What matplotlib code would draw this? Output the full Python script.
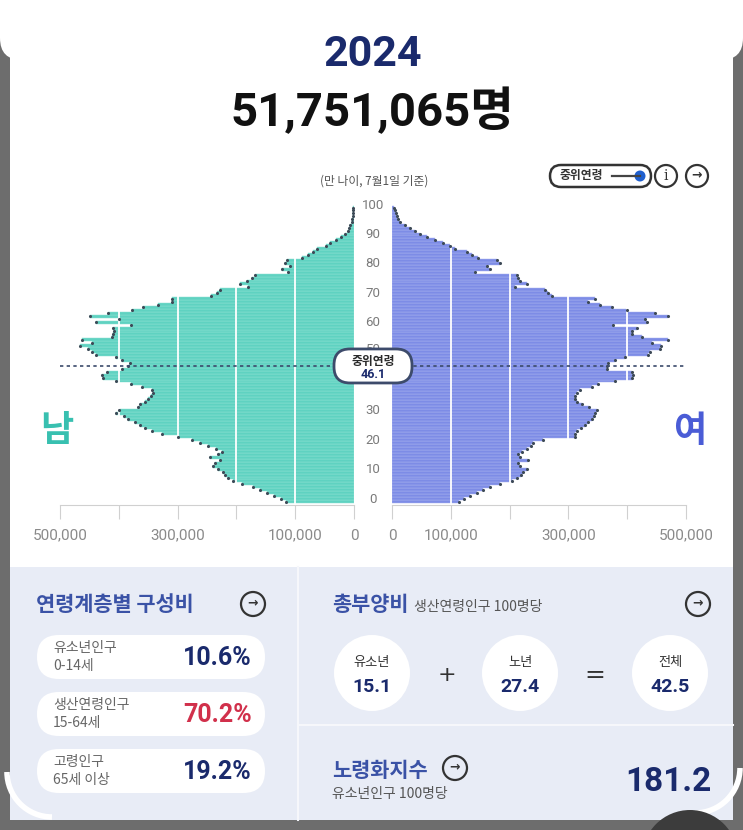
import matplotlib
matplotlib.use('Agg')
import matplotlib.pyplot as plt
from matplotlib.patches import FancyBboxPatch, Circle, Rectangle, Arc
import numpy as np

plt.rcParams['font.family'] = ['Noto Sans CJK KR', 'DejaVu Sans']
NUM_FONT = ['Roboto', 'DejaVu Sans']
HEAD_FONT = ['Roboto', 'Noto Sans CJK KR', 'DejaVu Sans']

# ---- data (population in thousands, age 0..100) ----
ages = list(range(0, 101))
male_k = [115, 125, 136, 148, 160, 172, 190, 205, 215, 220,
          222, 232, 240, 236, 228, 245, 231, 225, 235, 248,
          262, 275, 300, 327, 344, 355, 364, 372, 385, 392,
          404, 400, 367, 364, 355, 350, 345, 341, 344, 360,
          380, 404, 427, 429, 420, 395, 384, 381, 395, 404,
          438, 445, 452, 466, 446, 463, 412, 410, 408, 410,
          380, 438, 400, 449, 418, 378, 359, 333, 309, 310,
          243, 233, 228, 180, 194, 182, 174, 168, 112, 123,
          109, 117, 114, 89, 78, 70, 63, 48, 40, 30,
          22, 15, 11, 8, 6, 4, 3, 2, 1.5, 1, 1]
female_k = [114, 122, 132, 145, 155, 167, 184, 204, 213, 220,
            223, 229, 218, 215, 232, 218, 214, 221, 230, 236,
            240, 257, 311, 312, 314, 322, 328, 334, 340, 343,
            345, 348, 335, 323, 315, 311, 311, 315, 320, 340,
            350, 379, 408, 410, 408, 365, 366, 368, 379, 396,
            436, 439, 456, 457, 442, 469, 425, 408, 408, 416,
            376, 433, 430, 470, 447, 399, 374, 354, 334, 345,
            272, 266, 260, 209, 229, 218, 215, 212, 141, 167,
            161, 184, 178, 146, 136, 127, 107, 99, 87, 73,
            59, 48, 39, 31, 22, 14, 11, 8, 6, 5, 4]
age_ticks = [0, 10, 20, 30, 50, 60, 70, 80, 90, 100]   # 40 sits under the median box
value_ticks = [0, 100000, 200000, 300000, 400000, 500000]
value_labels = ['0', '100,000', '', '300,000', '', '500,000']
median_age = 46.1
year_label = '2024'
total_label = '51,751,065명'

share_names = ['유소년인구', '생산연령인구', '고령인구']
share_ranges = ['0-14세', '15-64세', '65세 이상']
share_values = ['10.6%', '70.2%', '19.2%']
dep_names = ['유소년', '노년', '전체']
dep_values = ['15.1', '27.4', '42.5']
aging_index = '181.2'

MALE_C, MALE_E = '#5fd2c1', '#8fe2d5'
FEM_C, FEM_E = '#7d8ce6', '#a9b3f0'
NAVY = '#1a2a6c'
TITLE_BLUE = '#3a52a6'

W, H = 743, 830
fig = plt.figure(figsize=(W / 100, H / 100), dpi=100)
fig.patch.set_facecolor('#6d6d6d')

bg = fig.add_axes([0, 0, 1, 1])
bg.set_xlim(0, W)
bg.set_ylim(H, 0)
bg.axis('off')

# card
bg.add_patch(FancyBboxPatch((0, -30), W, 90, boxstyle='round,pad=0,rounding_size=22',
                            fc='white', ec='none'))
bg.add_patch(Rectangle((10, 40), W - 20, 780, fc='white', ec='none'))
bg.add_patch(Rectangle((10, 567), W - 20, 253, fc='#e8ecf6', ec='none'))
bg.add_patch(Arc((52, 772), 90, 90, theta1=90, theta2=180, color='white', lw=4))
bg.add_patch(Arc((695, 768), 90, 90, theta1=0, theta2=90, color='white', lw=4))
bg.add_patch(Circle((690, 858), 48, fc='#3c3c3c', ec='none'))

# header
bg.text(373, 55, year_label, ha='center', va='center', fontsize=31, fontweight='bold',
        color=NAVY, family=HEAD_FONT)
bg.text(372, 111, total_label, ha='center', va='center', fontsize=34, fontweight='bold',
        color='#111111', family=HEAD_FONT)
bg.text(374, 181, '(만 나이, 7월1일 기준)', ha='center', va='center', fontsize=8.5, color='#555555')

# toggle + icons
bg.add_patch(FancyBboxPatch((550, 165), 101, 22, boxstyle='round,pad=0,rounding_size=11',
                            fc='white', ec='#333333', lw=1.8))
bg.text(581, 176, '중위연령', ha='center', va='center', fontsize=8.5, fontweight='bold', color='#333333')
bg.plot([612, 640], [176, 176], color='#444444', lw=1.6)
bg.add_patch(Circle((640, 176), 5.5, fc='#1f5fcf', ec='none'))


def arrow_icon(x, y, r=11):
    bg.add_patch(Circle((x, y), r, fc='none', ec='#333333', lw=1.6))
    bg.text(x, y - 1, '→', ha='center', va='center', fontsize=9, fontweight='bold',
            color='#333333', family=['DejaVu Sans'])


bg.add_patch(Circle((666, 176), 11, fc='none', ec='#333333', lw=1.6))
bg.text(666, 176, 'i', ha='center', va='center', fontsize=10, color='#333333', family=['DejaVu Serif'])
arrow_icon(697, 176)

# 남 / 여
bg.text(57, 430, '남', ha='center', va='center', fontsize=26, fontweight='bold', color='#38c0b0')
bg.text(690, 431, '여', ha='center', va='center', fontsize=26, fontweight='bold', color='#4a5cd6')

# ---- pyramid ----
Y_SPINE, Y_TOP = 505, 204.6


def pyr_axes(x0, x1):
    return fig.add_axes([x0 / W, 1 - Y_SPINE / H, (x1 - x0) / W, (Y_SPINE - Y_TOP) / H])


axm = pyr_axes(60, 354)
axf = pyr_axes(392, 686)
for ax, vals, face, edge in ((axm, male_k, MALE_C, MALE_E), (axf, female_k, FEM_C, FEM_E)):
    v = np.array(vals) * 1000
    ax.barh(ages, v, height=1.0, color=face, edgecolor=edge, linewidth=0.35, zorder=2)
    for t in value_ticks[1:-1]:
        ax.axvline(t, color='white', lw=1.3, zorder=3)
    ax.scatter(v, ages, s=5, color='#3d4a57', zorder=4, linewidths=0)
    ax.set_ylim(-1.19, 101)
    ax.set_yticks([])
    for s in ('top', 'left', 'right'):
        ax.spines[s].set_visible(False)
    ax.spines['bottom'].set_color('#d0d0d0')
    ax.set_xticks(value_ticks)
    ax.set_xticklabels(value_labels, family=NUM_FONT, fontsize=11, color='#8a8a8a')
    ax.tick_params(axis='x', length=10, color='#d0d0d0', pad=7)
    ax.patch.set_alpha(0)
axm.set_xlim(500000, 0)
axf.set_xlim(0, 500000)

# overlay
top = fig.add_axes([0, 0, 1, 1], zorder=10)
top.set_xlim(0, W)
top.set_ylim(H, 0)
top.axis('off')
top.patch.set_alpha(0)


def age_y(a):
    return 501.5 - 2.94 * a


ym = age_y(median_age)
box_top = ym - 17
clip = Rectangle((330, 150), 90, box_top - 150, transform=top.transData)
for a in age_ticks:
    yl = age_y(a) - 2.5
    hidden = yl - 6 < box_top < yl + 6
    if hidden:
        yl -= 3
    t = top.text(373, yl, str(a), ha='center', va='center', fontsize=9.5,
                 color='#7a7a7a', family=NUM_FONT)
    if hidden:
        t.set_clip_path(clip)

top.plot([60, 686], [ym, ym], ls=(0, (2, 2)), color='#3b4a6b', lw=1.2, zorder=4)
top.add_patch(FancyBboxPatch((334, box_top), 78, 34, boxstyle='round,pad=0,rounding_size=16',
                             fc='white', ec='#3d4b6b', lw=2, zorder=5))
top.text(373, ym - 4, '중위연령', ha='center', va='center', fontsize=8.5, fontweight='bold',
         color='#2a2a2a', zorder=6)
top.text(373, ym + 9, f'{median_age}', ha='center', va='center', fontsize=9, fontweight='bold',
         color=NAVY, zorder=6, family=NUM_FONT)

# ---- bottom panels ----
bg.plot([298, 298], [567, 820], color='#f6f7fb', lw=1.5)
bg.plot([298, 733], [725, 725], color='#f6f7fb', lw=1.5)

bg.text(36, 604, '연령계층별 구성비', ha='left', va='center', fontsize=15, fontweight='bold', color=TITLE_BLUE)
arrow_icon(253, 604, 12)
pill_tops = [635, 692, 749]
for i, y0 in enumerate(pill_tops):
    bg.add_patch(FancyBboxPatch((37, y0), 228, 44, boxstyle='round,pad=0,rounding_size=22',
                                fc='white', ec='none'))
    bg.text(53, y0 + 13, share_names[i], ha='left', va='center', fontsize=10, color='#666666')
    bg.text(53, y0 + 31, share_ranges[i], ha='left', va='center', fontsize=10, color='#666666')
    col = '#d1304b' if i == 1 else NAVY
    bg.text(252, y0 + 23, share_values[i], ha='right', va='center', fontsize=18, fontweight='bold',
            color=col, family=NUM_FONT)

bg.text(332, 604, '총부양비', ha='left', va='center', fontsize=15, fontweight='bold', color=TITLE_BLUE)
bg.text(414, 607, '생산연령인구 100명당', ha='left', va='center', fontsize=10, color='#555555')
arrow_icon(698, 604, 12)
for cx, name, val in zip([372, 520, 670], dep_names, dep_values):
    bg.add_patch(Circle((cx, 673), 38, fc='white', ec='none'))
    bg.text(cx, 662, name, ha='center', va='center', fontsize=9.5, color='#333333')
    bg.text(cx, 687, val, ha='center', va='center', fontsize=14, fontweight='bold', color=NAVY,
            family=NUM_FONT)
bg.text(447, 675, '+', ha='center', va='center', fontsize=16, color='#333333', family=['DejaVu Sans'])
bg.text(595, 675, '=', ha='center', va='center', fontsize=18, color='#333333', family=['DejaVu Sans'])

bg.text(332, 770, '노령화지수', ha='left', va='center', fontsize=15, fontweight='bold', color=TITLE_BLUE)
arrow_icon(455, 768, 12)
bg.text(332, 794, '유소년인구 100명당', ha='left', va='center', fontsize=10, color='#555555')
bg.text(712, 782, aging_index, ha='right', va='center', fontsize=24, fontweight='bold', color=NAVY,
        family=NUM_FONT)

fig.savefig('out.png', dpi=100, facecolor=fig.get_facecolor())
